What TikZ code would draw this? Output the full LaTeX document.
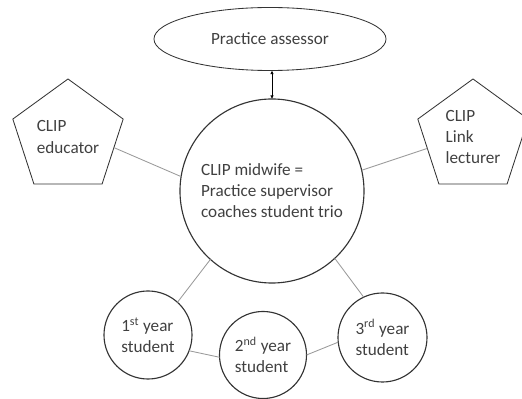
\documentclass[tikz,border=0pt]{standalone}
\usepackage{fontspec}
\setmainfont{Carlito}
\newcommand*{\clipfont}{\fontsize{12.2}{15}\selectfont}
\definecolor{O}{gray}{0.2}
\definecolor{L}{gray}{0.6}
\definecolor{T}{gray}{0.25}
\usetikzlibrary{shapes.geometric}
\usetikzlibrary{arrows.meta}
\usetikzlibrary{positioning}
\tikzstyle{base}=[x=0.025cm, y=-0.025cm, font=\clipfont, text=T, outer sep=0pt]
\tikzstyle{ring}=[circle, draw=O, line width=0.8pt, inner sep=0pt, align=left]
\tikzstyle{penta}=[regular polygon, regular polygon sides=5, draw=O, line width=0.6pt, minimum size=2.9cm, inner sep=0pt, align=left]
\tikzstyle{link}=[L, line width=0.6pt]
\tikzstyle{tip}=[{Latex[length=2.5pt,width=2.5pt]}-{Latex[length=2.5pt,width=2.5pt]}, black, line width=0.5pt]

\begin{document}
\begin{tikzpicture}[base]
    \path [use as bounding box] (0,0) rectangle (522,399);
    % assessor and midwife
    \node [ellipse, draw=O, line width=0.6pt, minimum width=5.8cm, minimum height=1.575cm, inner sep=0pt] (assessor) at (270,39) {Practice assessor};
    \node [ring, minimum size=4.6cm] (midwife) at (272,191) {CLIP midwife =\\Practice supervisor\\coaches student trio};
    \draw [tip] (midwife.north) -- (midwife.north |- assessor.south);
    % pentagons
    \node [penta] (educator) at (68,137) {CLIP\\educator};
    \node [penta] (lecturer) at (473,137) {CLIP\\Link\\lecturer};
    \draw [link] (educator.-13) -- (midwife.171);
    \draw [link] (lecturer.194) -- (midwife.13);
    % student trio
    \node [ring, minimum size=2.2cm] (first) at (148,335) {1\textsuperscript{st} year\\student};
    \node [ring, minimum size=2.175cm] (second) at (263,355) {2\textsuperscript{nd} year\\student};
    \node [ring, minimum size=2.225cm] (third) at (382.5,337.5) {3\textsuperscript{rd} year\\student};
    \draw [link] (midwife.-132) -- (first.48);
    \draw [link] (midwife.-47) -- (third.115);
    \draw [link] (first.-21) -- (second.183);
    \draw [link] (second.0) -- (third.186);
\end{tikzpicture}
\end{document}
